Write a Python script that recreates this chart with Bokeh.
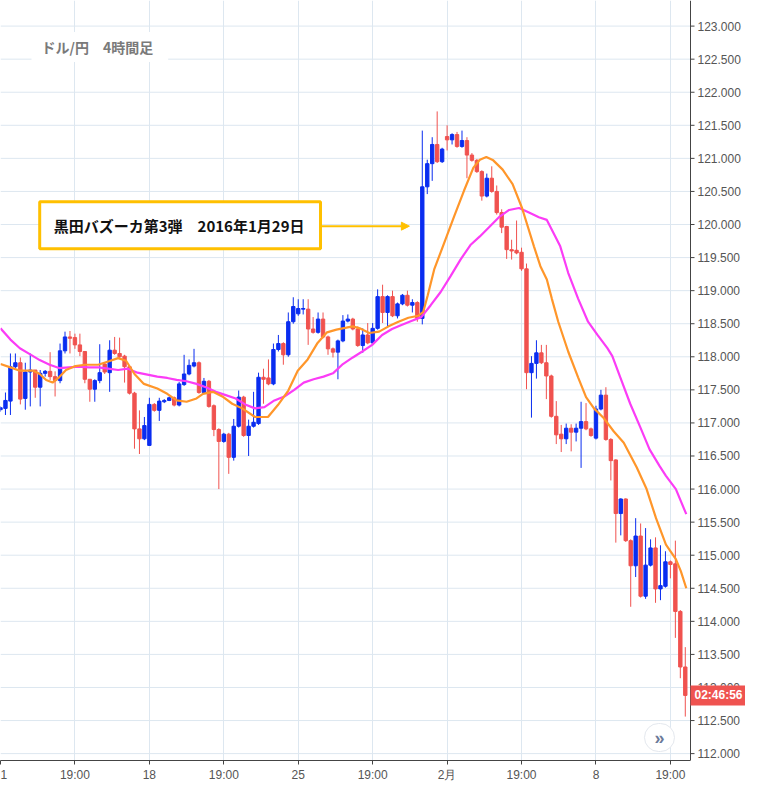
from bokeh.plotting import figure
from bokeh.models import (ColumnDataSource, FixedTicker, Label, Arrow, NormalHead,
                          Range1d, Span)
from bokeh.embed import file_html
from bokeh.resources import INLINE
from bokeh.core.properties import value

# ---- 4-hour USD/JPY candles ----
opens = [117.20, 117.22, 117.33, 117.85, 117.91, 117.37, 117.77, 117.80, 117.54, 117.75,
         117.78, 117.70, 117.64, 118.09, 118.30, 118.29, 118.18, 118.08, 117.66, 117.51,
         117.64, 117.89, 117.76, 118.10, 118.05, 118.01, 117.85, 117.45, 116.91, 116.76,
         116.66, 117.28, 117.19, 117.32, 117.34, 117.38, 117.27, 117.58, 117.74, 117.86,
         117.91, 117.46, 117.63, 117.26, 116.90, 116.72, 116.83, 116.48, 116.95, 117.39,
         116.81, 116.95, 116.99, 117.69, 117.68, 117.59, 118.11, 118.20, 118.03, 118.53,
         118.65, 118.72, 118.72, 118.42, 118.37, 118.57, 118.30, 118.12, 118.07, 118.24,
         118.54, 118.57, 118.42, 118.17, 118.33, 118.21, 118.43, 118.91, 118.67, 118.91,
         118.62, 118.80, 118.93, 118.78, 118.82, 118.58, 120.57, 120.92, 121.21, 120.95,
         121.33, 121.28, 121.36, 121.18, 121.27, 121.05, 120.97, 120.80, 120.43, 120.70,
         120.50, 120.18, 119.97, 119.62, 119.61, 119.58, 119.33, 117.76, 117.90, 118.06,
         117.91, 117.71, 117.10, 116.83, 116.76, 116.92, 116.86, 116.92, 117.02, 116.91,
         116.77, 117.21, 117.42, 116.75, 116.44, 115.63, 115.85, 115.22, 114.84, 115.29,
         114.38, 114.85, 115.11, 114.49, 114.53, 114.90, 114.87, 114.15, 113.31]
highs = [117.25, 117.46, 118.05, 118.05, 117.99, 117.91, 118.05, 117.80, 117.80, 117.80,
         118.07, 117.78, 118.20, 118.38, 118.39, 118.35, 118.35, 118.08, 117.66, 117.66,
         118.19, 117.92, 118.25, 118.30, 118.29, 118.03, 117.87, 117.47, 117.19, 117.09,
         117.38, 117.30, 117.38, 117.36, 117.40, 117.40, 117.62, 118.03, 117.96, 118.12,
         117.93, 117.68, 117.65, 117.28, 116.92, 116.85, 116.85, 117.06, 117.49, 117.41,
         117.05, 117.47, 117.76, 117.82, 117.96, 118.20, 118.33, 118.22, 118.67, 118.90,
         118.87, 118.87, 118.87, 118.60, 118.67, 118.67, 118.32, 118.14, 118.26, 118.63,
         118.64, 118.59, 118.46, 118.43, 118.51, 118.51, 119.02, 119.09, 118.93, 119.00,
         118.82, 118.95, 119.00, 118.87, 118.84, 121.42, 120.98, 121.32, 121.71, 121.16,
         121.50, 121.38, 121.40, 121.42, 121.32, 121.08, 120.99, 120.82, 120.77, 120.88,
         120.59, 120.23, 119.98, 119.77, 120.06, 119.65, 119.41, 118.01, 118.25, 118.18,
         118.18, 117.73, 117.33, 116.97, 116.99, 116.98, 116.99, 117.32, 117.30, 116.93,
         117.26, 117.50, 117.54, 116.77, 116.45, 115.86, 115.86, 115.24, 115.56, 115.48,
         115.41, 115.24, 115.27, 115.15, 115.06, 114.92, 115.22, 114.17, 113.61]
lows = [117.17, 117.12, 117.12, 117.80, 117.28, 117.20, 117.25, 117.38, 117.25, 117.70,
        117.65, 117.40, 117.60, 118.05, 118.05, 118.12, 118.01, 117.60, 117.32, 117.32,
        117.60, 117.74, 117.47, 118.03, 117.98, 117.61, 117.43, 116.61, 116.53, 116.74,
        116.66, 117.17, 117.03, 117.30, 117.33, 117.25, 117.25, 117.56, 117.72, 117.84,
        117.44, 117.44, 117.23, 116.80, 116.00, 116.70, 116.23, 116.43, 116.93, 116.79,
        116.50, 116.93, 116.97, 117.29, 117.57, 117.57, 118.08, 117.88, 118.00, 118.50,
        118.62, 118.64, 118.18, 118.35, 118.35, 118.28, 118.03, 117.99, 117.66, 118.22,
        118.52, 118.40, 118.15, 118.06, 118.19, 118.19, 118.41, 118.51, 118.44, 118.60,
        118.58, 118.78, 118.76, 118.67, 118.53, 118.49, 120.46, 120.66, 120.93, 120.93,
        121.12, 121.21, 121.16, 121.16, 120.70, 120.95, 120.78, 120.36, 120.41, 120.48,
        120.15, 119.87, 119.48, 119.47, 119.55, 119.30, 117.51, 117.08, 117.67, 117.89,
        117.36, 117.08, 116.68, 116.56, 116.68, 116.57, 116.72, 116.32, 116.89, 116.79,
        116.75, 117.19, 116.73, 116.13, 115.19, 115.30, 115.20, 114.22, 114.67, 114.36,
        114.34, 114.83, 114.28, 114.32, 114.51, 114.65, 113.75, 113.14, 112.56]
closes = [117.23, 117.34, 117.85, 117.91, 117.36, 117.77, 117.80, 117.54, 117.75, 117.78,
          117.70, 117.64, 118.09, 118.30, 118.28, 118.18, 118.08, 117.66, 117.51, 117.64,
          117.76, 117.77, 118.10, 118.05, 118.00, 117.85, 117.45, 116.91, 116.76, 116.96,
          117.28, 117.19, 117.33, 117.34, 117.38, 117.27, 117.59, 117.74, 117.87, 117.91,
          117.46, 117.63, 117.25, 116.90, 116.72, 116.83, 116.48, 116.95, 117.39, 116.81,
          116.95, 117.01, 117.69, 117.66, 117.59, 118.11, 118.20, 118.03, 118.53, 118.76,
          118.73, 118.73, 118.42, 118.37, 118.57, 118.30, 118.12, 118.07, 118.24, 118.54,
          118.57, 118.42, 118.17, 118.33, 118.21, 118.43, 118.91, 118.67, 118.91, 118.62,
          118.80, 118.93, 118.78, 118.82, 118.58, 120.57, 120.92, 121.21, 120.95, 121.14,
          121.28, 121.36, 121.18, 121.27, 121.05, 120.97, 120.80, 120.43, 120.70, 120.50,
          120.18, 119.96, 119.62, 119.60, 119.57, 119.33, 117.76, 117.90, 118.06, 117.91,
          117.71, 117.10, 116.82, 116.76, 116.92, 116.86, 116.92, 117.02, 116.91, 116.81,
          117.21, 117.42, 116.75, 116.43, 115.63, 115.85, 115.22, 114.84, 115.29, 114.38,
          114.85, 115.11, 114.49, 114.54, 114.90, 114.86, 114.15, 113.31, 112.88]

# ---- moving averages (bar position, price) ----
ma_fast_x = [0, 2, 3.9, 6.6, 7.9, 9.2, 10.5, 11.8, 13.2, 15.1, 17.1, 19.7, 21.7, 23.7, 25.3, 27, 28.9,
             31.6, 33.6, 35.5, 37.5, 39.5, 40.8, 42.8, 44.7, 46.7, 48.7, 51.3, 53.9, 55.9, 58, 59.9,
             61.9, 63.9, 65.8, 67.7, 69.7, 71, 72.4, 74.3, 76.3, 78.2, 80.2, 82.2, 84.2, 85.2, 86.1,
             87.4, 89.4, 91.4, 93.4, 95.3, 96.6, 97.9, 99.3, 101.2, 103.2, 105.1, 107.5, 108.8, 110.1,
             111.1, 112.4, 114.4, 116.4, 118, 119.6, 121.6, 123.6, 125.6, 128.2, 130.2, 132.1, 134.1,
             136.1, 137.1, 138.2]
ma_fast_y = [117.89, 117.84, 117.79, 117.79, 117.74, 117.65, 117.61, 117.69, 117.80, 117.86, 117.88,
             117.88, 117.93, 117.98, 117.94, 117.74, 117.59, 117.52, 117.44, 117.34, 117.32, 117.37,
             117.44, 117.47, 117.40, 117.29, 117.22, 117.09, 117.09, 117.27, 117.49, 117.79, 117.96,
             118.21, 118.37, 118.41, 118.44, 118.46, 118.43, 118.36, 118.38, 118.46, 118.53, 118.59,
             118.62, 118.68, 118.93, 119.32, 119.72, 120.12, 120.51, 120.86, 120.98, 121.02, 120.97,
             120.83, 120.61, 120.25, 119.67, 119.37, 119.17, 118.88, 118.53, 118.08, 117.69, 117.39,
             117.22, 117.07, 116.87, 116.70, 116.33, 116.0, 115.56, 115.16, 114.94, 114.76, 114.50]
ma_slow_x = [0, 2, 3.9, 5.9, 7.9, 9.9, 11.8, 13.8, 15.8, 17.8, 19.7, 21.7, 23.7, 25.7, 27.6, 29.6,
             31.6, 33.6, 35.5, 37.5, 39.5, 41.4, 43.4, 45.4, 47.4, 49.3, 51.3, 53.2, 55.2, 57.2, 59.2,
             61.1, 63.1, 65.1, 67.0, 69.0, 71.0, 72.9, 74.9, 76.9, 78.9, 80.8, 82.8, 84.8, 86.7, 88.7,
             90.7, 92.7, 94.7, 96.6, 98.6, 100.6, 102.5, 104.5, 106.5, 108.5, 110.1, 111.8, 112.8,
             114.4, 116.4, 118.4, 120.3, 122.3, 123.3, 124.9, 126.9, 128.9, 130.8, 132.8, 134.1,
             136.1, 138.2]
ma_slow_y = [118.43, 118.26, 118.13, 118.04, 117.95, 117.88, 117.83, 117.84, 117.85, 117.84, 117.84,
             117.82, 117.80, 117.82, 117.76, 117.73, 117.70, 117.68, 117.65, 117.63, 117.59, 117.54,
             117.47, 117.42, 117.37, 117.28, 117.22, 117.24, 117.34, 117.40, 117.50, 117.61, 117.66,
             117.70, 117.75, 117.89, 117.99, 118.08, 118.18, 118.33, 118.42, 118.48, 118.54, 118.60,
             118.78, 118.98, 119.22, 119.47, 119.69, 119.82, 119.97, 120.12, 120.22, 120.25, 120.18,
             120.11, 120.07, 119.82, 119.67, 119.27, 118.88, 118.53, 118.33, 118.13, 118.01, 117.69,
             117.29, 116.94, 116.60, 116.35, 116.20, 116.0, 115.62]

# ---- axis ticks / texts ----
x_tick_pos = [0, 15, 30, 45, 60, 75, 90, 105, 120, 135]
x_tick_labels = ["1", "19:00", "18", "19:00", "25", "19:00", "2月", "19:00", "8", "19:00"]
y_tick_pos = [112.0 + 0.5 * i for i in range(23)]
y_tick_labels = [f"{v:.3f}" for v in y_tick_pos]
title_text = "ドル/円　4時間足"
event_text = "黒田バズーカ第3弾　2016年1月29日"
clock_text = "02:46:56"

UP = "#0a2df0"
DOWN = "#f0524f"
GRID = "#dde7f0"
AXIS = "#444444"
LABEL = "#555555"

bars = list(range(len(opens)))
colors = [UP if c >= o else DOWN for o, c in zip(opens, closes)]
src = ColumnDataSource(dict(
    x=bars, h=highs, l=lows,
    top=[max(o, c) for o, c in zip(opens, closes)],
    bottom=[min(o, c) for o, c in zip(opens, closes)],
    color=colors))

# geometry: price axis sits inside the frame so the clock tag can overlap it
W, FH = 745, 760
AX_PX = 690                      # x pixel of the price axis
X_AXIS = 139.05                  # bar coordinate of the price axis
PX_PER_BAR = AX_PX / X_AXIS
X_END = W / PX_PER_BAR
Y0, Y1 = 111.896, 123.387

p = figure(frame_width=W, frame_height=FH,
           x_range=Range1d(0, X_END), y_range=Range1d(Y0, Y1),
           y_axis_location=None, output_backend="svg", toolbar_location=None,
           min_border_left=0, min_border_top=0, min_border_right=0, min_border_bottom=0)
p.outline_line_color = None
p.background_fill_color = "white"
p.border_fill_color = "white"

# horizontal grid (stops at the price axis)
p.segment(x0=[0] * len(y_tick_pos), x1=[X_AXIS] * len(y_tick_pos),
          y0=y_tick_pos, y1=y_tick_pos, line_color=GRID, line_width=1, level="underlay")

# candles
p.segment(x0="x", y0="l", x1="x", y1="h", line_color="color", line_width=1, source=src)
p.vbar(x="x", width=0.68, top="top", bottom="bottom", fill_color="color",
       line_color="color", line_width=1, source=src)

# moving averages
p.line(ma_slow_x, ma_slow_y, line_color="#fb3cf6", line_width=2.2)
p.line(ma_fast_x, ma_fast_y, line_color="#ff962a", line_width=2.2)

# price axis (drawn by hand on the right)
p.add_layout(Span(location=X_AXIS, dimension="height", line_color=AXIS, line_width=1))
tick_len = 4 / PX_PER_BAR
p.segment(x0=[X_AXIS] * len(y_tick_pos), x1=[X_AXIS + tick_len] * len(y_tick_pos),
          y0=y_tick_pos, y1=y_tick_pos, line_color=AXIS, line_width=1)
p.text(x=[X_AXIS] * len(y_tick_pos), y=y_tick_pos, text=y_tick_labels,
       x_offset=7, text_baseline="middle", text_align="left",
       text_font=value("Liberation Sans"), text_font_size="12px", text_color=LABEL)

# time axis
p.xaxis.ticker = FixedTicker(ticks=x_tick_pos)
p.xaxis.major_label_overrides = {t: s for t, s in zip(x_tick_pos, x_tick_labels)}
p.xaxis.bounds = (0, X_AXIS)
p.xaxis.axis_line_color = AXIS
p.xaxis.major_tick_line_color = AXIS
p.xaxis.major_tick_out = 4
p.xaxis.major_tick_in = 0
p.xaxis.minor_tick_line_color = None
p.xaxis.major_label_text_color = LABEL
p.xaxis.major_label_text_font = "Liberation Sans"
p.xaxis.major_label_text_font_size = "12px"
p.xaxis.major_label_standoff = 3
p.xgrid.grid_line_color = GRID
p.ygrid.visible = False

# title box
p.add_layout(Label(x=31, y=FH - 46.5, x_units="screen", y_units="screen", text=title_text,
                   text_font="Noto Sans CJK JP", text_font_size="14px", text_font_style="bold",
                   text_color="#7a7a7a", text_baseline="middle", text_align="left",
                   background_fill_color="white",
                   padding=dict(left=10, right=15, top=5, bottom=5)))

# event annotation
p.add_layout(Label(x=7.9, y=119.99, text=event_text,
                   text_font="Noto Sans CJK JP", text_font_size="15px", text_font_style="bold",
                   text_color="#111111", text_baseline="middle", text_align="left",
                   background_fill_color="white", border_line_color="#ffc000",
                   border_line_width=3,
                   padding=dict(left=14, right=16, top=13, bottom=13)))
p.add_layout(Arrow(x_start=64.6, y_start=119.975, x_end=82.4, y_end=119.975,
                   line_color="#ffc000", line_width=2,
                   end=NormalHead(size=8, fill_color="#ffc000", line_color="#ffc000")))

# last-price clock tag on the price axis
p.add_layout(Label(x=X_AXIS, y=closes[-1], text=clock_text,
                   text_align="left", text_baseline="middle", text_color="white",
                   text_font="Liberation Sans", text_font_size="12px", text_font_style="bold",
                   background_fill_color="#ef5350",
                   padding=dict(left=4, right=3, top=3, bottom=3)))

# scroll button
p.add_layout(Label(x=659, y=23, x_units="screen", y_units="screen", text="»",
                   text_align="center", text_baseline="middle", text_color="#6b7a99",
                   text_font="Liberation Sans", text_font_size="18px", text_font_style="bold",
                   background_fill_color="white", border_line_color="#e4e8ee",
                   border_line_width=1, border_radius=15,
                   padding=dict(left=10, right=10, top=4, bottom=4)))

open("out.html", "w").write(file_html(p, INLINE))
